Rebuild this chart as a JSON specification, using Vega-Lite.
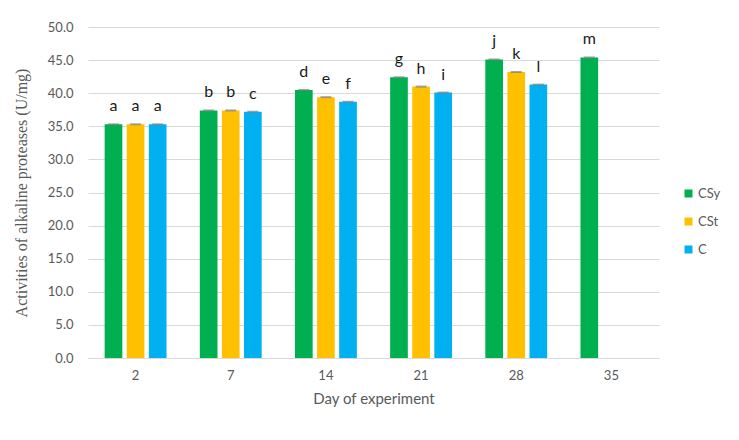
{
  "$schema": "https://vega.github.io/schema/vega-lite/v6.json",
  "width": 571,
  "height": 331,
  "autosize": "none",
  "padding": {"left": 88, "top": 27, "right": 80, "bottom": 82},
  "background": "white",
  "config": {
    "view": {"stroke": null},
    "font": "Lato",
    "axis": {"labelColor": "#595959", "titleColor": "#595959", "labelFont": "Lato", "titleFont": "Lato"}
  },
  "data": {
    "values": [
      {"day": 2, "group": "CSy", "activity": 35.3, "err": 0.1, "letter": "a"},
      {"day": 2, "group": "CSt", "activity": 35.3, "err": 0.1, "letter": "a"},
      {"day": 2, "group": "C", "activity": 35.3, "err": 0.1, "letter": "a"},
      {"day": 7, "group": "CSy", "activity": 37.4, "err": 0.1, "letter": "b"},
      {"day": 7, "group": "CSt", "activity": 37.4, "err": 0.1, "letter": "b"},
      {"day": 7, "group": "C", "activity": 37.2, "err": 0.1, "letter": "c"},
      {"day": 14, "group": "CSy", "activity": 40.5, "err": 0.1, "letter": "d"},
      {"day": 14, "group": "CSt", "activity": 39.4, "err": 0.1, "letter": "e"},
      {"day": 14, "group": "C", "activity": 38.7, "err": 0.1, "letter": "f"},
      {"day": 21, "group": "CSy", "activity": 42.4, "err": 0.1, "letter": "g"},
      {"day": 21, "group": "CSt", "activity": 41.0, "err": 0.1, "letter": "h"},
      {"day": 21, "group": "C", "activity": 40.1, "err": 0.1, "letter": "i"},
      {"day": 28, "group": "CSy", "activity": 45.1, "err": 0.1, "letter": "j"},
      {"day": 28, "group": "CSt", "activity": 43.2, "err": 0.1, "letter": "k"},
      {"day": 28, "group": "C", "activity": 41.3, "err": 0.1, "letter": "l"},
      {"day": 35, "group": "CSy", "activity": 45.4, "err": 0.1, "letter": "m"}
    ]
  },
  "encoding": {
    "x": {
      "field": "day",
      "type": "ordinal",
      "sort": [2, 7, 14, 21, 28, 35],
      "scale": {"paddingInner": 0.35, "paddingOuter": 0.175},
      "axis": {
        "title": "Day of experiment",
        "titleFontSize": 15,
        "titleFontWeight": "normal",
        "titlePadding": 9,
        "labelAngle": 0,
        "labelFontSize": 13,
        "labelPadding": 11,
        "ticks": false,
        "domainColor": "#d9d9d9"
      }
    },
    "xOffset": {
      "field": "group",
      "type": "nominal",
      "sort": ["CSy", "CSt", "C"],
      "scale": {"domain": ["CSy", "CSt", "C"], "paddingInner": 0.2, "paddingOuter": 0}
    },
    "y": {
      "field": "activity",
      "type": "quantitative",
      "scale": {"domain": [0, 50], "nice": false},
      "axis": {
        "title": "Activities of alkaline proteases (U/mg)",
        "titleFont": "Liberation Serif",
        "titleFontSize": 16,
        "titleFontWeight": "normal",
        "titlePadding": 18,
        "values": [0, 5, 10, 15, 20, 25, 30, 35, 40, 45, 50],
        "labelOverlap": false,
        "format": ".1f",
        "labelFontSize": 13,
        "labelPadding": 15,
        "ticks": false,
        "domain": false,
        "gridColor": "#d9d9d9"
      }
    }
  },
  "layer": [
    {
      "mark": {"type": "bar"},
      "encoding": {
        "color": {
          "field": "group",
          "type": "nominal",
          "sort": ["CSy", "CSt", "C"],
          "scale": {"domain": ["CSy", "CSt", "C"], "range": ["#00b050", "#ffc000", "#00b0f0"]},
          "legend": {
            "title": null,
            "orient": "none",
            "legendX": 594,
            "legendY": 160,
            "symbolType": "square",
            "symbolSize": 64,
            "symbolStrokeWidth": 0,
            "labelFontSize": 13,
            "labelColor": "#595959",
            "labelOffset": 3,
            "rowPadding": 14
          }
        }
      }
    },
    {
      "mark": {"type": "tick", "color": "#7f7f7f", "thickness": 2, "size": 11},
      "encoding": {}
    },
    {
      "mark": {"type": "text", "baseline": "alphabetic", "dy": -13, "fontSize": 16, "color": "#1a1a1a", "font": "Lato"},
      "encoding": {
        "text": {"field": "letter"}
      }
    }
  ]
}
